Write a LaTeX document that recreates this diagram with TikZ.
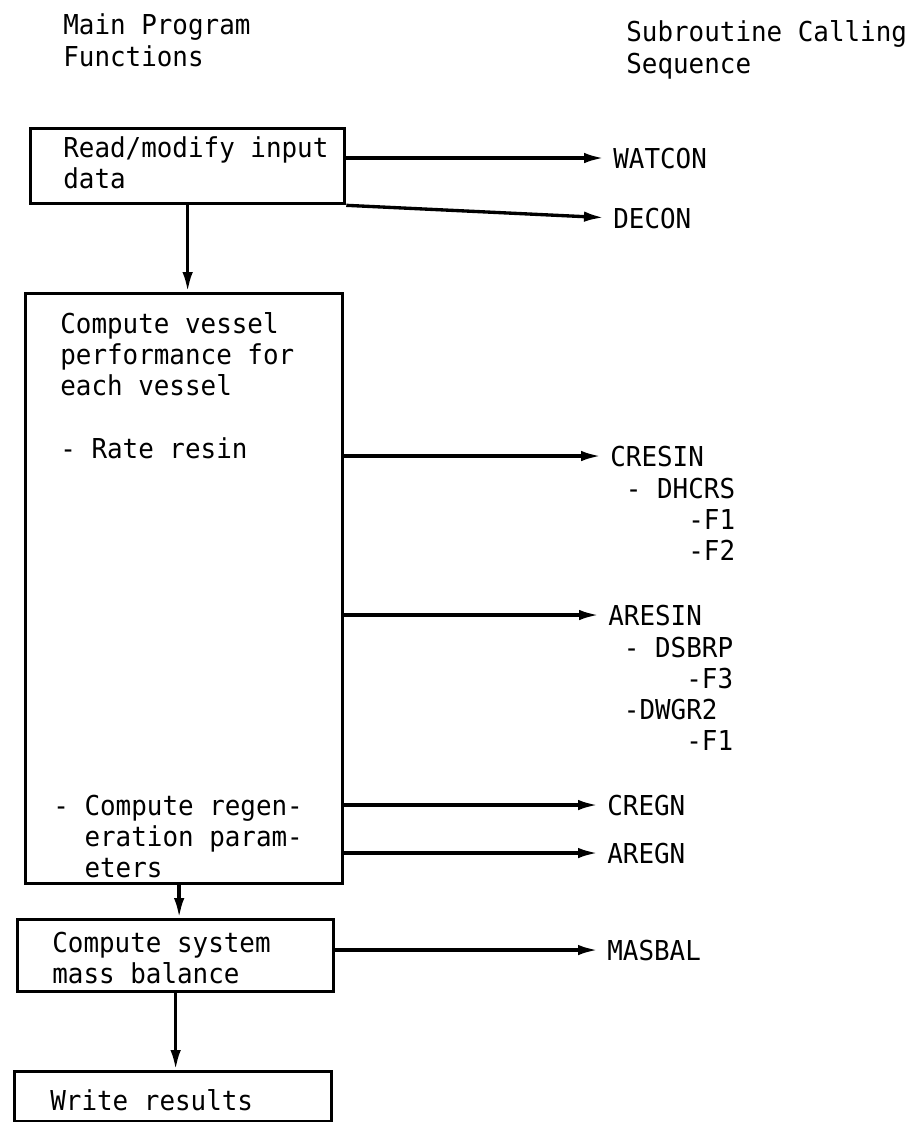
\documentclass[tikz,border=0pt]{standalone}
\usepackage{fontspec}
\usepackage{tikz}
\usetikzlibrary{arrows.meta, positioning}
\newfontfamily\typefont[FakeStretch=0.945]{DejaVu Sans Mono}
\newcommand{\typesize}{\typefont\fontsize{15.6pt}{17.8pt}\selectfont}
\newcommand{\lines}[1]{\begin{tabular}[t]{@{}l@{}}#1\end{tabular}}

\begin{document}
\begin{tikzpicture}[
    x=0.02cm, y=-0.02cm,
    box_node/.style={draw, rectangle, anchor=north west, inner sep=0pt, line width=1.9pt},
    text_node/.style={anchor=base west, inner sep=0pt, font=\typesize},
    arrow/.style={-{Latex[length=4mm, width=2.1mm]}, line width=1.9pt},
    call_arrow/.style={arrow, shorten >=0.18cm}
]
\useasboundingbox (0,0) rectangle (907,1122);

% Headings
\node[text_node] (main_head) at (63,35) {\lines{Main Program\\Functions}};
\node[text_node] (sub_head) at (626,42) {\lines{Subroutine Calling\\Sequence}};

% Main program
\node[box_node, minimum width=6.28cm, minimum height=1.5cm] (read) at (29,127) {};
\node[box_node, minimum width=6.34cm, minimum height=11.8cm] (vessel) at (24,292) {};
\node[box_node, minimum width=6.32cm, minimum height=1.44cm] (system) at (16,918) {};
\node[box_node, minimum width=6.34cm, minimum height=1.0cm] (write) at (13,1070) {};

\node[text_node] (read_text) at (63,157) {\lines{Read/modify input\\data}};
\node[text_node] (vessel_text) at (60,333) {\lines{Compute vessel\\performance for\\each vessel\\ \\- Rate resin}};
\node[text_node] (regen_text) at (53,815) {\lines{- Compute regen-\\\hphantom{ab}eration param-\\\hphantom{ab}eters}};
\node[text_node] (system_text) at (52,952) {\lines{Compute system\\mass balance}};
\node[text_node] (write_text) at (50,1110) {Write results};

% Subroutines
\node[text_node] (watcon) at (613,168) {WATCON};
\node[text_node] (decon) at (613,228) {DECON};
\node[text_node] (cresin) at (610,466) {CRESIN};
\node[text_node] (cresin_sub) at (610,498) {\lines{\hphantom{a}- DHCRS\\\hphantom{aaaaa}-F1\\\hphantom{aaaaa}-F2}};
\node[text_node] (aresin) at (608,625) {ARESIN};
\node[text_node] (aresin_sub) at (608,657) {\lines{\hphantom{a}- DSBRP\\\hphantom{aaaaa}-F3\\\hphantom{a}-DWGR2\\\hphantom{aaaaa}-F1}};
\node[text_node] (cregn) at (607,815) {CREGN};
\node[text_node] (aregn) at (607,863) {AREGN};
\node[text_node] (masbal) at (607,960) {MASBAL};

% Connections
\draw[arrow] (read.south) -- (read.south |- vessel.north);
\draw[arrow] ([xshift=-0.1cm]vessel.south) -- ([xshift=-0.1cm]vessel.south |- system.north);
\draw[arrow] (system.south) -- (system.south |- write.north);

\draw[call_arrow] (read.east |- watcon.west) -- (watcon.west);
\draw[call_arrow] (read.south east) -- (decon.west);
\draw[call_arrow] (vessel.east |- cresin.west) -- (cresin.west);
\draw[call_arrow] (vessel.east |- aresin.west) -- (aresin.west);
\draw[call_arrow] (vessel.east |- cregn.west) -- (cregn.west);
\draw[call_arrow] (vessel.east |- aregn.west) -- (aregn.west);
\draw[call_arrow] (system.east |- masbal.west) -- (masbal.west);

\end{tikzpicture}
\end{document}
